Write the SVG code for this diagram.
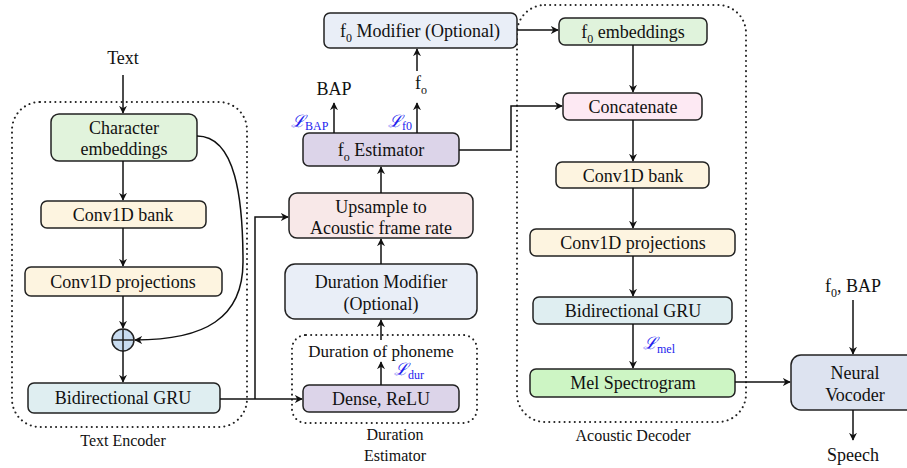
<svg xmlns="http://www.w3.org/2000/svg" width="907" height="468" viewBox="0 0 907 468" font-family="'Liberation Serif', 'Times New Roman', Times, 'DejaVu Serif', serif">
<defs>
<marker id="ah" viewBox="0 0 10 10" refX="9" refY="5" markerWidth="8" markerHeight="8" markerUnits="userSpaceOnUse" orient="auto">
<path d="M0,0 L10,5 L0,10 L3,5 Z" fill="#111"/>
</marker>
<style>
.box{stroke:#222;stroke-width:1.5}
.dot{fill:none;stroke:#222;stroke-width:2;stroke-dasharray:0.1 5;stroke-linecap:round}
.t{font-family:'Liberation Serif','Times New Roman',Times,'DejaVu Serif',serif;font-size:18px;fill:#111;text-anchor:middle}
.s{font-family:'Liberation Serif','Times New Roman',Times,'DejaVu Serif',serif;font-size:16px;fill:#111;text-anchor:middle}
.L{font-family:'Liberation Serif','DejaVu Serif',serif;font-size:17px;fill:#2222ee;font-style:italic}
.sub{font-size:12px;font-style:normal}
.c{fill:none;stroke:#111;stroke-width:1.5}
</style>
</defs>
<rect width="907" height="468" fill="#fff"/>

<g id="text-encoder-group">
<rect class="dot" x="12" y="102" width="235" height="325" rx="28"/>
<text class="s" x="123" y="446">Text Encoder</text>
</g>
<g id="duration-estimator-group">
<rect class="dot" x="292" y="335" width="185" height="88" rx="14"/>
<text class="s" x="395" y="440">Duration</text>
<text class="s" x="395" y="461">Estimator</text>
</g>
<g id="acoustic-decoder-group">
<rect class="dot" x="517" y="5" width="229" height="417" rx="28"/>
<text class="s" x="633" y="441">Acoustic Decoder</text>
</g>

<g id="text-in"><text class="t" x="123" y="64">Text</text></g>
<g id="char-emb">
<rect class="box" x="51" y="114" width="146" height="47" rx="8" fill="#e1f3dc"/>
<text class="t" x="124" y="134">Character</text>
<text class="t" x="124" y="155">embeddings</text>
</g>
<g id="enc-conv-bank">
<rect class="box" x="41" y="201" width="165" height="27" rx="6" fill="#fdf4e0"/>
<text class="t" x="123" y="221">Conv1D bank</text>
</g>
<g id="enc-conv-proj">
<rect class="box" x="25" y="267" width="197" height="29" rx="6" fill="#fdf4e0"/>
<text class="t" x="123" y="288">Conv1D projections</text>
</g>
<g id="plus">
<ellipse class="box" cx="123" cy="340" rx="11" ry="11" fill="#c9dcf0"/>
<path d="M112,340 H134 M123,329 V351" stroke="#222" stroke-width="1.5"/>
</g>
<g id="enc-gru">
<rect class="box" x="28" y="383" width="192" height="30" rx="6" fill="#dfeef1"/>
<text class="t" x="123" y="404">Bidirectional GRU</text>
</g>

<g id="dense">
<rect class="box" x="303" y="385" width="156" height="27" rx="6" fill="#dcd4e9"/>
<text class="t" x="381" y="405">Dense, ReLU</text>
</g>
<g id="dur-phoneme"><text class="s" x="381" y="357" style="font-size:17px">Duration of phoneme</text></g>
<g id="dur-mod">
<rect class="box" x="285" y="264" width="192" height="55" rx="10" fill="#e9eef7"/>
<text class="t" x="381" y="288">Duration Modifier</text>
<text class="t" x="381" y="310">(Optional)</text>
</g>
<g id="upsample">
<rect class="box" x="289" y="193" width="184" height="45" rx="8" fill="#f8e8e8"/>
<text class="t" x="381" y="213">Upsample to</text>
<text class="t" x="381" y="234">Acoustic frame rate</text>
</g>
<g id="f0-est">
<rect class="box" x="303" y="133" width="156" height="33" rx="6" fill="#dcd4e9"/>
<text class="t" x="381" y="156">f<tspan class="sub" dy="5">o</tspan><tspan dy="-5"> Estimator</tspan></text>
</g>
<g id="bap-out"><text class="t" x="334" y="95">BAP</text></g>
<g id="fo-out"><text class="t" x="421" y="89">f<tspan class="sub" dy="5">o</tspan></text></g>
<g id="f0-mod">
<rect class="box" x="324" y="13" width="193" height="35" rx="6" fill="#e9eef7"/>
<text class="t" x="420" y="37">f<tspan class="sub" dy="5">0</tspan><tspan dy="-5"> Modifier (Optional)</tspan></text>
</g>

<g id="f0-emb">
<rect class="box" x="559" y="18" width="148" height="27" rx="6" fill="#e0f3dc"/>
<text class="t" x="633" y="38">f<tspan class="sub" dy="5">0</tspan><tspan dy="-5"> embeddings</tspan></text>
</g>
<g id="concat">
<rect class="box" x="563" y="93" width="139" height="27" rx="6" fill="#fde9f3"/>
<text class="t" x="633" y="113">Concatenate</text>
</g>
<g id="dec-conv-bank">
<rect class="box" x="556" y="162" width="153" height="26" rx="6" fill="#fdf4e0"/>
<text class="t" x="633" y="182">Conv1D bank</text>
</g>
<g id="dec-conv-proj">
<rect class="box" x="530" y="229" width="205" height="27" rx="6" fill="#fdf4e0"/>
<text class="t" x="633" y="249">Conv1D projections</text>
</g>
<g id="dec-gru">
<rect class="box" x="533" y="297" width="199" height="27" rx="6" fill="#dfeef1"/>
<text class="t" x="633" y="317">Bidirectional GRU</text>
</g>
<g id="mel">
<rect class="box" x="530" y="369" width="205" height="28" rx="6" fill="#cdf5c4"/>
<text class="t" x="633" y="389">Mel Spectrogram</text>
</g>

<g id="vocoder">
<rect class="box" x="791" y="355" width="128" height="55" rx="10" fill="#dde3f0"/>
<text class="t" x="855" y="379">Neural</text>
<text class="t" x="855" y="401">Vocoder</text>
</g>
<g id="f0bap-in"><text class="t" x="853" y="292">f<tspan class="sub" dy="5">0</tspan><tspan dy="-5">, BAP</tspan></text></g>
<g id="speech-out"><text class="t" x="853" y="461">Speech</text></g>

<g id="losses">
<text class="L" x="291" y="127">ℒ<tspan class="sub" dy="3">BAP</tspan></text>
<text class="L" x="388" y="127">ℒ<tspan class="sub" dy="3">f0</tspan></text>
<text class="L" x="394" y="375">ℒ<tspan class="sub" dy="4">dur</tspan></text>
<text class="L" x="643" y="349">ℒ<tspan class="sub" dy="4">mel</tspan></text>
</g>

<g id="connectors">
<path class="c" d="M123,75 V113" marker-end="url(#ah)"/>
<path class="c" d="M123,161 V200" marker-end="url(#ah)"/>
<path class="c" d="M123,228 V266" marker-end="url(#ah)"/>
<path class="c" d="M123,296 V328" marker-end="url(#ah)"/>
<path class="c" d="M123,351 V382" marker-end="url(#ah)"/>
<path class="c" d="M197,136 C236,136 243,200 243,262 C243,318 205,340 135,340" marker-end="url(#ah)"/>
<path class="c" d="M220,399 H302" marker-end="url(#ah)"/>
<path class="c" d="M255,399 V217 H288" marker-end="url(#ah)"/>
<path class="c" d="M381,385 V362" marker-end="url(#ah)"/>
<path class="c" d="M381,340 V320" marker-end="url(#ah)"/>
<path class="c" d="M381,264 V239" marker-end="url(#ah)"/>
<path class="c" d="M381,193 V167" marker-end="url(#ah)"/>
<path class="c" d="M334,133 V103" marker-end="url(#ah)"/>
<path class="c" d="M417,133 V103" marker-end="url(#ah)"/>
<path class="c" d="M417,71 V49" marker-end="url(#ah)"/>
<path class="c" d="M517,30 H558" marker-end="url(#ah)"/>
<path class="c" d="M459,150 H511 V106 H562" marker-end="url(#ah)"/>
<path class="c" d="M633,45 V92" marker-end="url(#ah)"/>
<path class="c" d="M633,120 V161" marker-end="url(#ah)"/>
<path class="c" d="M633,188 V228" marker-end="url(#ah)"/>
<path class="c" d="M633,256 V296" marker-end="url(#ah)"/>
<path class="c" d="M633,324 V368" marker-end="url(#ah)"/>
<path class="c" d="M735,382 H790" marker-end="url(#ah)"/>
<path class="c" d="M853,300 V354" marker-end="url(#ah)"/>
<path class="c" d="M853,410 V440" marker-end="url(#ah)"/>
</g>
</svg>
